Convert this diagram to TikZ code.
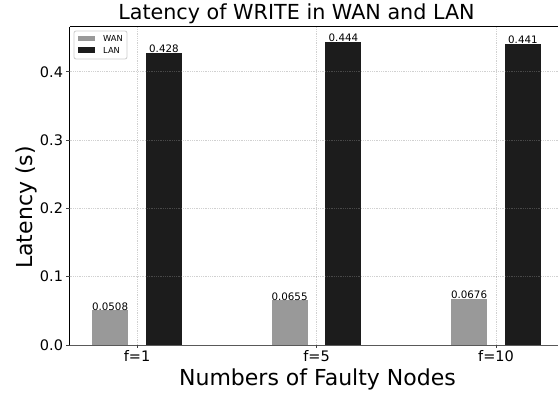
\documentclass[tikz,border=0pt]{standalone}
\usepackage{fontspec}
\setmainfont{DejaVu Sans}
\definecolor{wangray}{gray}{0.6}
\definecolor{landark}{gray}{0.11}
\definecolor{gridgray}{gray}{0.55}
\tikzset{
  wanbar/.style={fill=wangray, draw=none},
  lanbar/.style={fill=landark, draw=none},
  gridline/.style={draw=gridgray, line width=0.7pt, dash pattern=on 0.9pt off 0.9pt, opacity=0.4},
  spine/.style={draw=black, line width=0.9pt},
  tickmark/.style={draw=black!75, line width=0.8pt},
  vallabel/.style={anchor=base, inner sep=0pt, font=\fontsize{10.3}{12}\selectfont},
  ticklabel/.style={inner sep=0pt, font=\fontsize{14.5}{17}\selectfont},
  leglabel/.style={anchor=west, inner sep=0pt, font=\fontsize{8.3}{10}\selectfont},
}
\begin{document}
\begin{tikzpicture}[x=1pt,y=1pt]
\useasboundingbox (0,0) rectangle (558,393);

\begin{scope}[shift={(-42.5,48)}, x=179.5pt, y=683pt]
\coordinate (o) at (0.625,0);
\coordinate (xr) at (3.375,0);
\coordinate (yt) at (0.625,0.4663);
\coordinate (tr) at (3.375,0.4663);

\path[wanbar] (0.75,0) rectangle (0.95,0.0508);
\path[lanbar] (1.05,0) rectangle (1.25,0.428);
\path[wanbar] (1.75,0) rectangle (1.95,0.0655);
\path[lanbar] (2.05,0) rectangle (2.25,0.444);
\path[wanbar] (2.75,0) rectangle (2.95,0.0676);
\path[lanbar] (3.05,0) rectangle (3.25,0.441);

\path[gridline] (0.625,0.1) -- (3.375,0.1);
\path[gridline] (0.625,0.2) -- (3.375,0.2);
\path[gridline] (0.625,0.3) -- (3.375,0.3);
\path[gridline] (0.625,0.4) -- (3.375,0.4);
\path[gridline] (1,0) -- (1,0.4663);
\path[gridline] (2,0) -- (2,0.4663);
\path[gridline] (3,0) -- (3,0.4663);

\node[vallabel] (v1) at (0.85,0.0508) {0.0508};
\node[vallabel] (l1) at (1.15,0.428) {0.428};
\node[vallabel] (v5) at (1.85,0.0655) {0.0655};
\node[vallabel] (l5) at (2.15,0.444) {0.444};
\node[vallabel] (v10) at (2.85,0.0676) {0.0676};
\node[vallabel] (l10) at (3.15,0.441) {0.441};

\path[draw=black!65, line width=0.9pt] (o) -- (xr);
\path[spine] (o) -- (yt);
\path[spine] (yt) -- (tr);

\path[tickmark] (1,0) -- ([yshift=-3.5pt]1,0);
\path[tickmark] (2,0) -- ([yshift=-3.5pt]2,0);
\path[tickmark] (3,0) -- ([yshift=-3.5pt]3,0);
\path[tickmark] (0.625,0) -- ([xshift=-3.5pt]0.625,0);
\path[tickmark] (0.625,0.1) -- ([xshift=-3.5pt]0.625,0.1);
\path[tickmark] (0.625,0.2) -- ([xshift=-3.5pt]0.625,0.2);
\path[tickmark] (0.625,0.3) -- ([xshift=-3.5pt]0.625,0.3);
\path[tickmark] (0.625,0.4) -- ([xshift=-3.5pt]0.625,0.4);

\node[ticklabel, anchor=base] (f1) at ([yshift=-16.7pt]1,0) {f=1};
\node[ticklabel, anchor=base] (f5) at ([yshift=-16.7pt]2,0) {f=5};
\node[ticklabel, anchor=base] (f10) at ([yshift=-16.7pt]3,0) {f=10};
\node[ticklabel, anchor=east] (y0) at ([xshift=-6.5pt]0.625,0) {0.0};
\node[ticklabel, anchor=east] (y1) at ([xshift=-6.5pt]0.625,0.1) {0.1};
\node[ticklabel, anchor=east] (y2) at ([xshift=-6.5pt]0.625,0.2) {0.2};
\node[ticklabel, anchor=east] (y3) at ([xshift=-6.5pt]0.625,0.3) {0.3};
\node[ticklabel, anchor=east] (y4) at ([xshift=-6.5pt]0.625,0.4) {0.4};
\end{scope}

\path[draw=black!20, fill=white, rounded corners=2pt, line width=0.8pt] (74,334) rectangle (127,362);
\path[wanbar] (78,351.5) rectangle (95,357);
\path[lanbar] (78,339.5) rectangle (95,345.5);
\node[leglabel] (wan) at (103,354.3) {WAN};
\node[leglabel] (lan) at (103,342.5) {LAN};

\node[anchor=base, inner sep=0pt, font=\fontsize{20.7}{24}\selectfont] (title) at (296.5,373) {Latency of WRITE in WAN and LAN};
\node[anchor=base, inner sep=0pt, font=\fontsize{22}{26}\selectfont] (xlabel) at (317.5,7.5) {Numbers of Faulty Nodes};
\node[anchor=base, inner sep=0pt, rotate=90, font=\fontsize{22}{26}\selectfont] (ylabel) at (32,185.5) {Latency (s)};
\end{tikzpicture}
\end{document}
